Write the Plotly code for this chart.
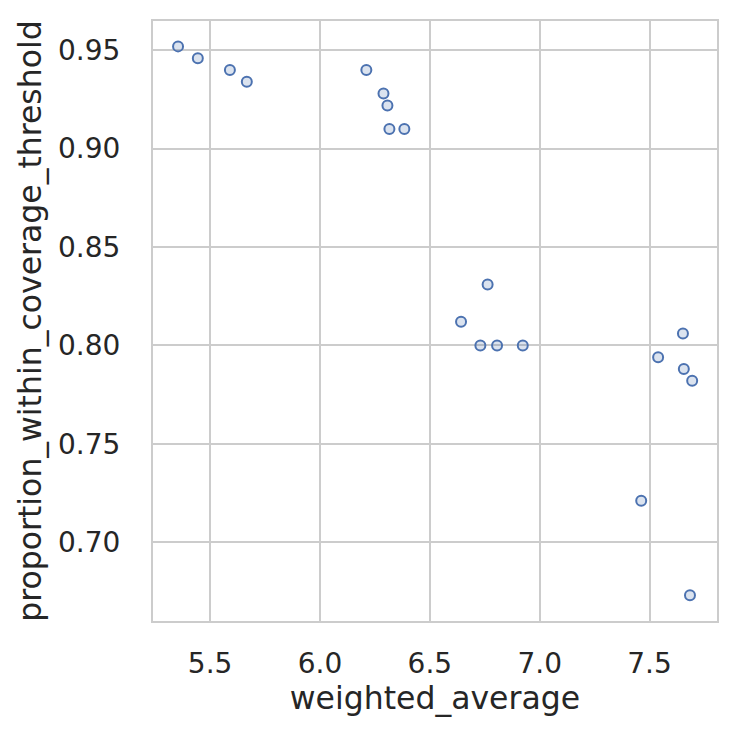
import plotly.graph_objects as go

weighted_average = [5.354, 5.444, 5.590, 5.667, 6.211, 6.289, 6.307, 6.316, 6.384,
                    6.763, 6.642, 6.730, 6.806, 6.923, 7.652, 7.539, 7.656, 7.694,
                    7.462, 7.684]
proportion_within_coverage_threshold = [0.952, 0.946, 0.940, 0.934, 0.940, 0.928, 0.922, 0.910, 0.910,
                                        0.831, 0.812, 0.800, 0.800, 0.800, 0.806, 0.794, 0.788, 0.782,
                                        0.721, 0.673]
x_ticks = [5.5, 6.0, 6.5, 7.0, 7.5]
y_ticks = [0.70, 0.75, 0.80, 0.85, 0.90, 0.95]

fig = go.Figure(go.Scatter(
    x=weighted_average, y=proportion_within_coverage_threshold, mode="markers",
    marker=dict(size=10, color="rgba(76,114,176,0.2)",
                line=dict(color="#4c72b0", width=2)),
))

axis_common = dict(showgrid=True, gridcolor="#cccccc", gridwidth=1.6,
                   showline=True, linecolor="#cccccc", linewidth=2.2, mirror=True,
                   zeroline=False, ticks="outside", tickcolor="rgba(0,0,0,0)",
                   tickfont=dict(size=28, color="#262626", family="DejaVu Sans"),
                   title_font=dict(size=31.5, color="#262626", family="DejaVu Sans"))

fig.update_xaxes(range=[5.240, 7.807], tickvals=x_ticks, tickformat=".1f", ticklen=16,
                 title_text="weighted_average", title_standoff=4, **axis_common)
fig.update_yaxes(range=[0.6599, 0.9649], tickvals=y_ticks, tickformat=".2f", ticklen=25,
                 title_text="proportion_within_coverage_threshold", title_standoff=7,
                 **axis_common)

fig.update_layout(width=729, height=729, margin=dict(l=145, r=20, t=11, b=116),
                  plot_bgcolor="white", paper_bgcolor="white", showlegend=False,
                  font=dict(family="DejaVu Sans", color="#262626"))
fig.write_html("out.html")
